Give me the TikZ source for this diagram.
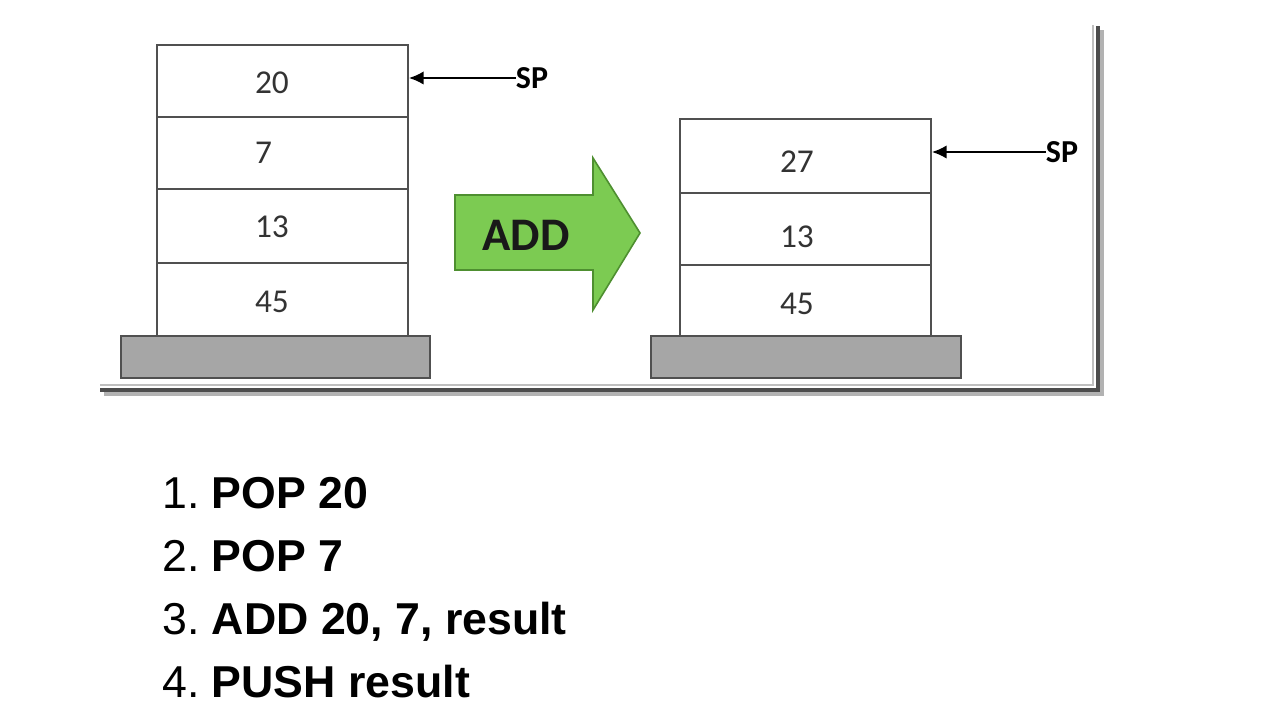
\documentclass[tikz,border=0pt]{standalone}
\usepackage{fontspec}
\setmainfont{Liberation Sans}
\newfontfamily\carl{Carlito}
\usetikzlibrary{arrows.meta}
\definecolor{cellline}{HTML}{505050}
\definecolor{basefill}{HTML}{A6A6A6}
\definecolor{addgreen}{HTML}{7CCB52}
\definecolor{addborder}{HTML}{4E8F30}
\newcommand{\lowerby}[2]{\raisebox{-#1}{#2}}
\tikzset{
  cell/.style={draw=cellline, line width=1.5pt, fill=white, minimum width=188.25pt, inner sep=0pt,
    align=left, text height=15.8pt, text depth=0pt, font=\carl\fontsize{25}{29}\selectfont, text=black!80},
  lcell/.style={cell, text width=41.25pt},
  rcell/.style={cell, text width=38.25pt},
  basebox/.style={draw=cellline, line width=1.5pt, fill=basefill, inner sep=0pt, minimum height=31.5pt},
  splabel/.style={font=\carl\bfseries\fontsize{24}{28}\selectfont, inner sep=0pt},
  sparrow/.style={line width=1.2pt, -{Latex[length=11pt,width=10pt]}},
  listitem/.style={anchor=base west, inner sep=0pt, font=\fontsize{33.5}{40}\selectfont}
}
\begin{document}
\frenchspacing
\begin{tikzpicture}[x=0.75pt, y=-0.75pt]
\useasboundingbox (0,0) rectangle (1280,720);
\fill[white] (0,0) rectangle (1280,720);
% frame with shadow
\draw[black!25, line width=0.8pt] (100,385) -- (1093,385) -- (1093,25);
\draw[black!30, line width=3pt] (104,394) -- (1102,394) -- (1102,30);
\draw[black!70, line width=3.5pt] (100,390) -- (1098,390) -- (1098,26);
% left stack
\node[lcell, minimum height=54pt] (L1) at (282.5,81) {\lowerby{1.5pt}{20}};
\node[lcell, minimum height=54pt] (L2) at (282.5,153) {7};
\node[lcell, minimum height=55.5pt] (L3) at (282.5,226) {\lowerby{0.75pt}{13}};
\node[lcell, minimum height=54.75pt] (L4) at (282.5,299.5) {\lowerby{1.9pt}{45}};
\node[basebox, minimum width=231.75pt] (LB) at (275.5,357) {};
\node[splabel] (spL) at (532,78) {SP};
\draw[sparrow] (spL.west) -- (L1.east |- spL.west);
% right stack
\node[rcell, minimum height=55.5pt] (R1) at (805.5,156) {\lowerby{4.5pt}{27}};
\node[rcell, minimum height=54pt] (R2) at (805.5,229) {\lowerby{6pt}{13}};
\node[rcell, minimum height=53.25pt] (R3) at (805.5,300.5) {\lowerby{2.6pt}{45}};
\node[basebox, minimum width=232.5pt] (RB) at (806,357) {};
\node[splabel] (spR) at (1062,152) {SP};
\draw[sparrow] (spR.west) -- (R1.east |- spR.west);
% green arrow
\draw[addborder, fill=addgreen, line width=1.2pt, line join=miter]
  (455,195) -- (593,195) -- (593,158) -- (640,233) -- (593,310) -- (593,270) -- (455,270) -- cycle;
\node[font=\carl\bfseries\fontsize{35}{40}\selectfont, text=black!90, inner sep=0pt] (add) at (526,235) {ADD};
% list
\node[listitem] (i1) at (162,508) {1. \textbf{POP 20}};
\node[listitem] (i2) at (162,571) {2. \textbf{POP 7}};
\node[listitem] (i3) at (162,634) {3. \textbf{ADD 20, 7, result}};
\node[listitem] (i4) at (162,697) {4. \textbf{PUSH result}};
\end{tikzpicture}
\end{document}
